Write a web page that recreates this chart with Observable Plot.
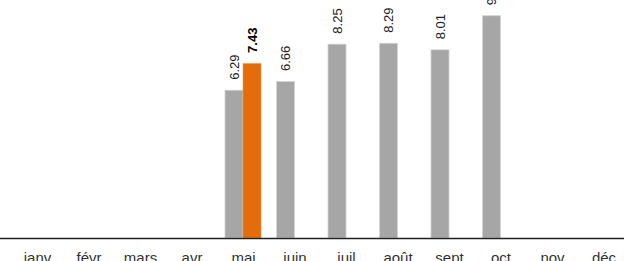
<!DOCTYPE html>
<html>
<head>
<meta charset="utf-8">
<script src="https://cdn.jsdelivr.net/npm/d3@7"></script>
<script src="https://cdn.jsdelivr.net/npm/@observablehq/plot@0.6"></script>
<style>
  html, body { margin: 0; padding: 0; background: #fff; }
  #chart svg { display: block; }
</style>
</head>
<body>
<div id="chart"></div>
<script>
const months = ["janv", "févr", "mars", "avr", "mai", "juin", "juil", "août", "sept", "oct", "nov", "déc"];
const previousValues = [null, null, null, null, 6.29, 6.66, 8.25, 8.29, 8.01, 9.46, null, null];
const currentValues = [null, null, null, null, 7.43, null, null, null, null, null, null, null];

const prevData = months.map((m, i) => ({month: m, value: previousValues[i]})).filter(d => d.value != null);
const currData = months.map((m, i) => ({month: m, value: currentValues[i]})).filter(d => d.value != null);

const half = 18;

const chart = Plot.plot({
  width: 624,
  height: 261,
  marginTop: 0,
  marginBottom: 23,
  marginLeft: 0,
  marginRight: 0,
  style: {fontFamily: "'Liberation Sans', Arial, sans-serif", background: "#fff"},
  x: {domain: months, range: [11.25, 629.25], paddingInner: 0.3, paddingOuter: 0.15, round: false, label: null},
  y: {domain: [0, 10.13], axis: null},
  marks: [
    Plot.barY(prevData, {x: "month", y: "value", fill: "#a6a6a6", stroke: "#d4d4d4", strokeWidth: 0.8, insetRight: half}),
    Plot.barY(currData, {x: "month", y: "value", fill: "#e46c0a", stroke: "#f0a060", strokeWidth: 0.5, insetLeft: half}),
    Plot.text(prevData, {x: "month", y: "value", text: d => d.value.toFixed(2), rotate: -90, textAnchor: "start", lineAnchor: "middle", dx: -9, dy: -11, fontSize: 13, fill: "#222"}),
    Plot.text(currData, {x: "month", y: "value", text: d => d.value.toFixed(2), rotate: -90, textAnchor: "start", lineAnchor: "middle", dx: 9, dy: -11, fontSize: 13, fontWeight: "bold", fill: "#000"}),
    Plot.ruleY([0], {stroke: "#222", strokeWidth: 1.3}),
    Plot.axisX({tickSize: 0, tickPadding: 14, fontSize: 15, fill: "#333", label: null})
  ]
});
document.getElementById("chart").appendChild(chart);
</script>
</body>
</html>
